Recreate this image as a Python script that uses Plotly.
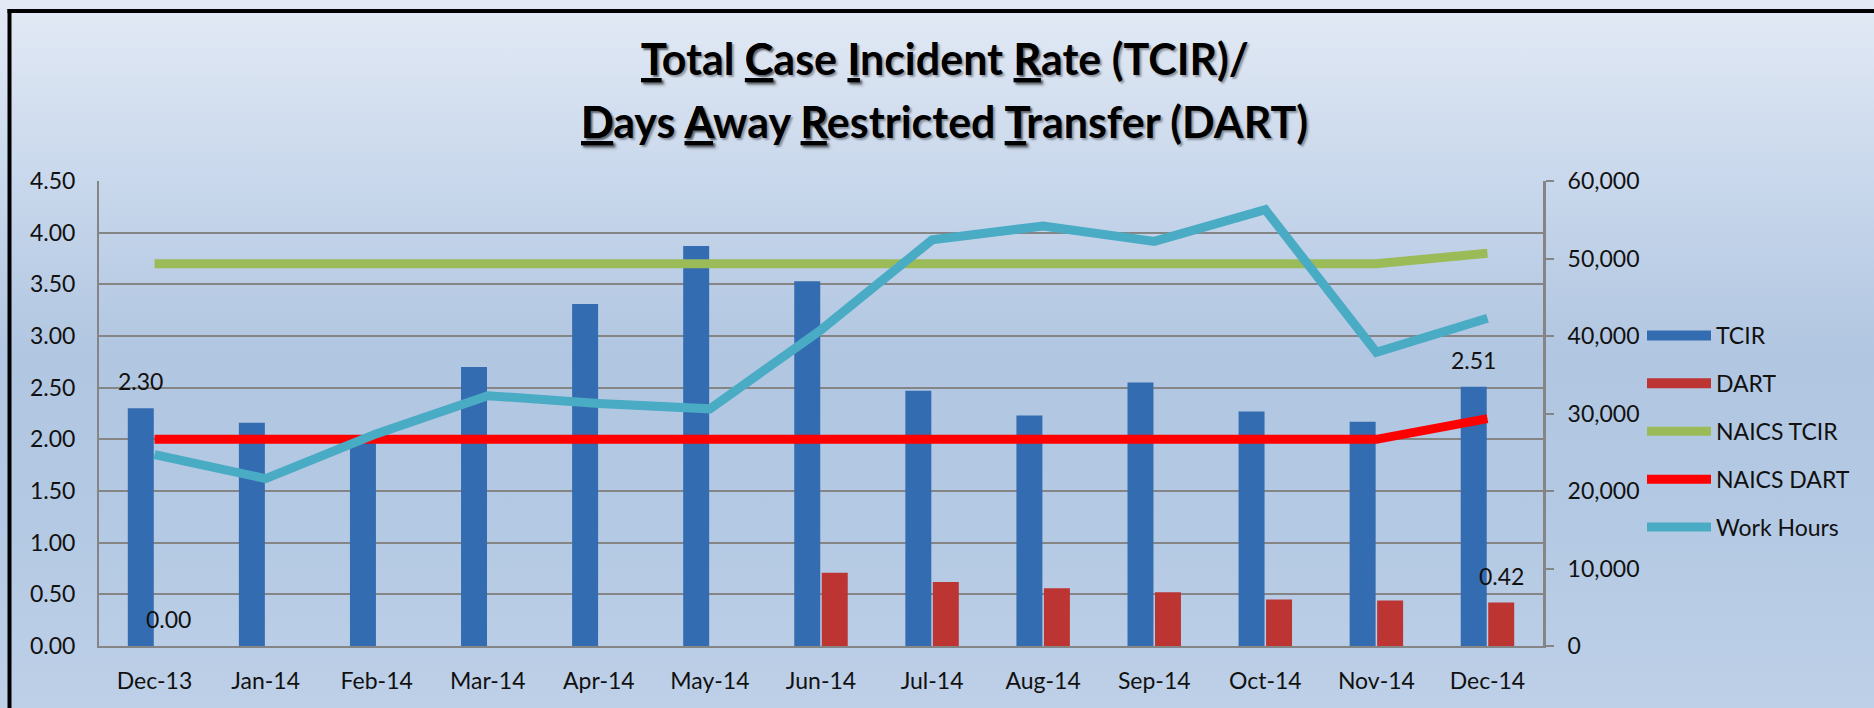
import base64
import plotly.graph_objects as go

# ---- data ----
months = ["Dec-13", "Jan-14", "Feb-14", "Mar-14", "Apr-14", "May-14", "Jun-14",
          "Jul-14", "Aug-14", "Sep-14", "Oct-14", "Nov-14", "Dec-14"]
tcir = [2.30, 2.16, 2.00, 2.70, 3.31, 3.87, 3.53, 2.47, 2.23, 2.55, 2.27, 2.17, 2.51]
dart = [0.00, 0, 0, 0, 0, 0, 0.71, 0.62, 0.56, 0.52, 0.45, 0.44, 0.42]
naics_tcir = [3.7, 3.7, 3.7, 3.7, 3.7, 3.7, 3.7, 3.7, 3.7, 3.7, 3.7, 3.7, 3.8]
naics_dart = [2.0, 2.0, 2.0, 2.0, 2.0, 2.0, 2.0, 2.0, 2.0, 2.0, 2.0, 2.0, 2.2]
work_hours = [24700, 21600, 27400, 32300, 31300, 30600, 40800, 52400, 54200,
              52200, 56300, 37900, 42300]
labelled_idx = [0, 12]  # points whose values are printed

W, H = 1874, 708
ML, MR, MT, MB = 99, 331, 181, 62
PW, PH = W - ML - MR, H - MT - MB


def px_x(px):
    return (px - ML) / PW


def px_y(py):
    return (H - MB - py) / PH


FONT = "Lato, Calibri, sans-serif"
GRID = "#858585"
C_TCIR = "#346cb1"
C_DART = "#bd3533"

svg = f'''<svg xmlns="http://www.w3.org/2000/svg" width="{W}" height="{H}" preserveAspectRatio="none">
<defs><linearGradient id="g" x1="0" y1="0" x2="0" y2="1">
<stop offset="0" stop-color="#e3eaf5"/>
<stop offset="0.25" stop-color="#c9d8ec"/>
<stop offset="0.5" stop-color="#b1c6e1"/>
<stop offset="0.75" stop-color="#b4c9e3"/>
<stop offset="1" stop-color="#bed0e8"/>
</linearGradient></defs>
<rect x="0" y="0" width="{W}" height="{H}" fill="url(#g)"/></svg>'''
bg_uri = "data:image/svg+xml;base64," + base64.b64encode(svg.encode()).decode()

fig = go.Figure()
fig.add_trace(go.Bar(name="TCIR", x=months, y=tcir, marker=dict(color=C_TCIR, line_width=0),
                     showlegend=False, legendgroup="a"))
fig.add_trace(go.Bar(name="DART", x=months, y=dart, marker=dict(color=C_DART, line_width=0),
                     showlegend=False, legendgroup="b"))
# legend keys for the bar series (wide rectangles, as in the original)
fig.add_trace(go.Scatter(name="TCIR", x=[None], y=[None], mode="lines",
                         line=dict(color=C_TCIR, width=15), legendgroup="a"))
fig.add_trace(go.Scatter(name="DART", x=[None], y=[None], mode="lines",
                         line=dict(color=C_DART, width=15), legendgroup="b"))
fig.add_trace(go.Scatter(name="NAICS TCIR", x=months, y=naics_tcir, mode="lines",
                         line=dict(color="#9bbb59", width=9), legendgroup="c"))
fig.add_trace(go.Scatter(name="NAICS DART", x=months, y=naics_dart, mode="lines",
                         line=dict(color="#ff0000", width=9), legendgroup="d"))
fig.add_trace(go.Scatter(name="Work Hours", x=months, y=work_hours, mode="lines", yaxis="y2",
                         line=dict(color="#4aabc5", width=9), legendgroup="e"))

annotations = []
for i in labelled_idx:
    annotations.append(dict(x=months[i], y=tcir[i], text=f"{tcir[i]:.2f}", showarrow=False,
                            xshift=-14, yshift=27, yanchor="middle",
                            font=dict(family=FONT, size=23, color="#111")))
    annotations.append(dict(x=months[i], y=dart[i], text=f"{dart[i]:.2f}", showarrow=False,
                            xshift=14, yshift=27, yanchor="middle",
                            font=dict(family=FONT, size=23, color="#111")))

title_font = dict(family=FONT, size=43, color="#000", weight="bold",
                  shadow="2px 2px 2px rgba(0,0,0,0.35)")
annotations.append(dict(xref="paper", yref="paper", x=px_x(945), y=px_y(59),
                        text="<u>T</u>otal <u>C</u>ase <u>I</u>ncident <u>R</u>ate (TCIR)/",
                        showarrow=False, xanchor="center", yanchor="middle", font=title_font))
annotations.append(dict(xref="paper", yref="paper", x=px_x(945), y=px_y(122),
                        text="<u>D</u>ays <u>A</u>way <u>R</u>estricted <u>T</u>ransfer (DART)",
                        showarrow=False, xanchor="center", yanchor="middle", font=title_font))

border = dict(color="#000", width=4)
fig.update_layout(
    width=W, height=H,
    margin=dict(l=ML, r=MR, t=MT, b=MB, pad=0),
    paper_bgcolor="#c5d5ea", plot_bgcolor="rgba(0,0,0,0)",
    font=dict(family=FONT, size=23, color="#111"),
    barmode="group", bargap=0.505, bargroupgap=0.055,
    showlegend=True,
    legend=dict(x=px_x(1642), y=px_y(314), xanchor="left", yanchor="top",
                bgcolor="rgba(0,0,0,0)", font=dict(family=FONT, size=23, color="#111"),
                traceorder="grouped", tracegroupgap=15, itemwidth=64),
    xaxis=dict(type="category", showline=True, linecolor=GRID, linewidth=2,
               showgrid=False, ticks="", ticklabelstandoff=13,
               tickfont=dict(family=FONT, size=23, color="#111")),
    yaxis=dict(range=[0, 4.5], dtick=0.5, tickformat=".2f", showline=True,
               linecolor=GRID, linewidth=2, gridcolor=GRID, gridwidth=2,
               zeroline=False, ticks="", ticklabelstandoff=17,
               tickfont=dict(family=FONT, size=23, color="#111")),
    yaxis2=dict(range=[0, 60000], dtick=10000, tickformat=",", overlaying="y", side="right",
                showline=True, linecolor=GRID, linewidth=3, showgrid=False, zeroline=False,
                ticks="outside", ticklen=8, tickwidth=2, tickcolor=GRID, ticklabelstandoff=9,
                tickfont=dict(family=FONT, size=23, color="#111")),
    annotations=annotations,
    images=[dict(source=bg_uri, xref="paper", yref="paper", x=px_x(0), y=px_y(0),
                 sizex=W / PW, sizey=H / PH, xanchor="left", yanchor="top",
                 sizing="stretch", layer="below")],
    shapes=[
        dict(type="line", xref="paper", yref="paper", x0=px_x(7.5), x1=px_x(W),
             y0=px_y(11), y1=px_y(11), line=border, layer="above"),
        dict(type="line", xref="paper", yref="paper", x0=px_x(9.5), x1=px_x(9.5),
             y0=px_y(9), y1=px_y(H), line=border, layer="above"),
    ],
)

fig.write_html("out.html", config={"displayModeBar": False},
               post_script="document.body.style.margin='0';document.body.style.overflow='hidden';")
